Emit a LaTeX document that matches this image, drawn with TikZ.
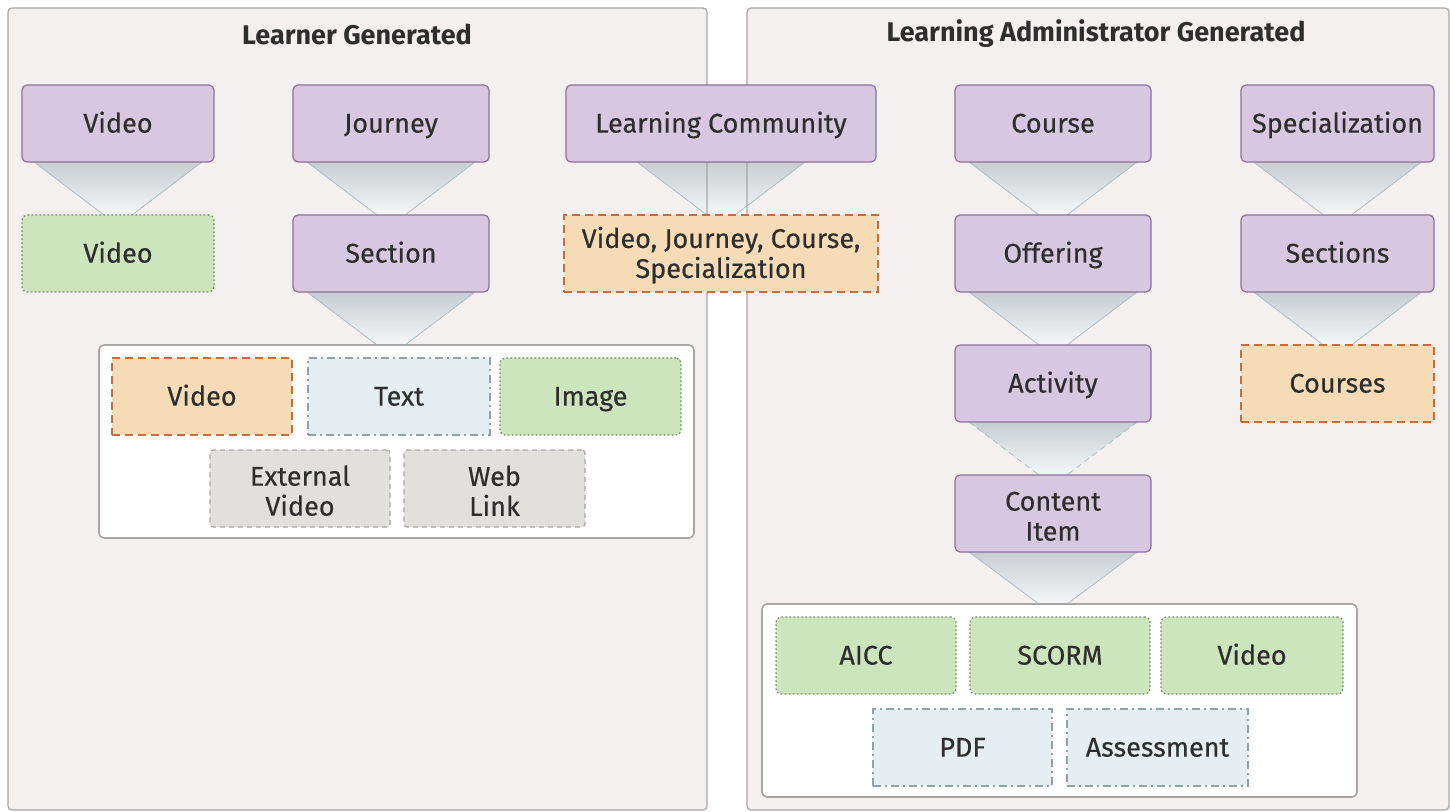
\documentclass[tikz,border=0pt]{standalone}
\usepackage{fontspec}
\setmainfont{Fira Sans}
\newfontfamily\boxfont[FakeBold=0.4]{Fira Sans}
\usetikzlibrary{calc}
\definecolor{panelfill}{HTML}{F3F0EF}
\definecolor{paneldraw}{HTML}{A8A6A4}
\definecolor{pfill}{HTML}{D8C7E1}
\definecolor{pdraw}{HTML}{8C7199}
\definecolor{gfill}{HTML}{CDE5BD}
\definecolor{gdraw}{HTML}{6E8A62}
\definecolor{ofill}{HTML}{F5DCB7}
\definecolor{odraw}{HTML}{C26E3E}
\definecolor{bfill}{HTML}{E5EEF0}
\definecolor{bdraw}{HTML}{90A2A5}
\definecolor{gyfill}{HTML}{E1E0DC}
\definecolor{gydraw}{HTML}{A9A6A1}
\definecolor{txt}{HTML}{2E2E2E}
\definecolor{funtop}{HTML}{C8CDD1}
\definecolor{funbot}{HTML}{F5F7F8}
\definecolor{funline}{HTML}{AFBDC4}
\newcommand\fs{\boxfont\fontsize{13.5}{15}\selectfont}
\tikzset{
  base/.style={draw, line width=0.6pt, align=center, inner sep=0pt, text=txt, font=\fs},
  purp/.style={base, fill=pfill, draw=pdraw, rounded corners=2.5pt},
  grn/.style={base, fill=gfill, draw=gdraw, dash pattern=on 0.8pt off 1.2pt, rounded corners=2.5pt},
  orng/.style={base, fill=ofill, draw=odraw, dash pattern=on 4pt off 2.5pt},
  blu/.style={base, fill=bfill, draw=bdraw, dash pattern=on 4pt off 2pt on 1pt off 2pt},
  gry/.style={base, fill=gyfill, draw=gydraw, dash pattern=on 2.5pt off 2pt, rounded corners=1.5pt},
  panel/.style={fill=panelfill, draw=paneldraw, line width=0.6pt, rounded corners=2pt},
  holder/.style={draw=paneldraw, fill=white, line width=0.8pt, rounded corners=2.5pt, inner sep=0pt},
  title/.style={font=\fontsize{13.5}{15}\selectfont\bfseries, text=txt, inner sep=0pt},
  funedge/.style={draw=funline, line width=0.4pt},
}
\newcommand\B[7]{\node[#1, minimum width={(#5-#3)*0.5pt}, minimum height={(#6-#4)*0.5pt}] (#2) at ({(#3+#5)/2},{(#4+#6)/2}) {\rule[-3.2pt]{0pt}{15.5pt}#7};}
% funnel: center x, top y, bottom y, extra style
\newcommand\F[4]{%
  \shade[top color=funtop, bottom color=funbot] ({#1-84},#2) -- ({#1+84},#2) -- ({#1+14},#3) -- ({#1-14},#3) -- cycle;
  \draw[funedge,#4] ({#1-84},#2) -- ({#1-14},#3) ({#1+84},#2) -- ({#1+14},#3);}
\begin{document}
\begin{tikzpicture}[x=0.5pt,y=-0.5pt]
\useasboundingbox (0,0) rectangle (1450,812);
\fill[white] (0,0) rectangle (1450,812);
% panels (fill)
\fill[panelfill] (8,8) rectangle (707,810);
\fill[panelfill] (747,8) rectangle (1449,810);
% funnels
\F{118}{162}{215}{}
\F{391}{162}{215}{}
\F{391}{292}{345}{}
\F{721}{162}{215}{}
\F{1053}{162}{215}{}
\F{1053}{292}{345}{}
\F{1053}{422}{475}{dash pattern=on 3pt off 2pt}
\F{1053}{552}{604}{}
\F{1337.5}{162}{215}{}
\F{1337.5}{292}{345}{}
% panel outlines
\draw[panel, fill=none] (8,8) rectangle (707,810);
\draw[panel, fill=none] (747,8) rectangle (1449,810);
\node[title] (t1) at (357,34) {Learner Generated};
\node[title] (t2) at (1096,34) {Learning Administrator Generated};
% holders
\B{holder}{h1}{99}{345}{694}{538}{}
\B{holder}{h2}{762}{604}{1357}{797}{}
% row 1
\B{purp}{v1}{22}{85}{214}{162}{Video}
\B{purp}{jr}{293}{85}{489}{162}{Journey}
\B{purp}{lc}{566}{85}{876}{162}{Learning Community}
\B{purp}{co}{955}{85}{1151}{162}{Course}
\B{purp}{sp}{1241}{85}{1434}{162}{Specialization}
% row 2
\B{grn}{v2}{22}{215}{214}{292}{Video}
\B{purp}{se}{293}{215}{489}{292}{Section}
\B{orng}{vj}{564}{215}{878}{292}{Video, Journey, Course,\\Specialization}
\B{purp}{of}{955}{215}{1151}{292}{Offering}
\B{purp}{ss}{1241}{215}{1434}{292}{Sections}
% row 3,4
\B{purp}{ac}{955}{345}{1151}{422}{Activity}
\B{orng}{cs}{1241}{345}{1434}{422}{Courses}
\B{purp}{ci}{955}{475}{1151}{552}{Content\\Item}
% left holder content
\B{orng}{lv}{112}{358}{292}{435}{Video}
\B{blu}{lt}{308}{358}{490}{435}{Text}
\B{grn}{li}{500}{358}{681}{435}{Image}
\B{gry}{le}{210}{450}{390}{527}{External\\Video}
\B{gry}{lw}{404}{450}{585}{527}{Web\\Link}
% right holder content
\B{grn}{ra}{776}{617}{956}{694}{AICC}
\B{grn}{rs}{970}{617}{1150}{694}{SCORM}
\B{grn}{rv}{1161}{617}{1343}{694}{Video}
\B{blu}{rp}{873}{709}{1052}{786}{PDF}
\B{blu}{ras}{1067}{709}{1248}{786}{Assessment}
\end{tikzpicture}
\end{document}
